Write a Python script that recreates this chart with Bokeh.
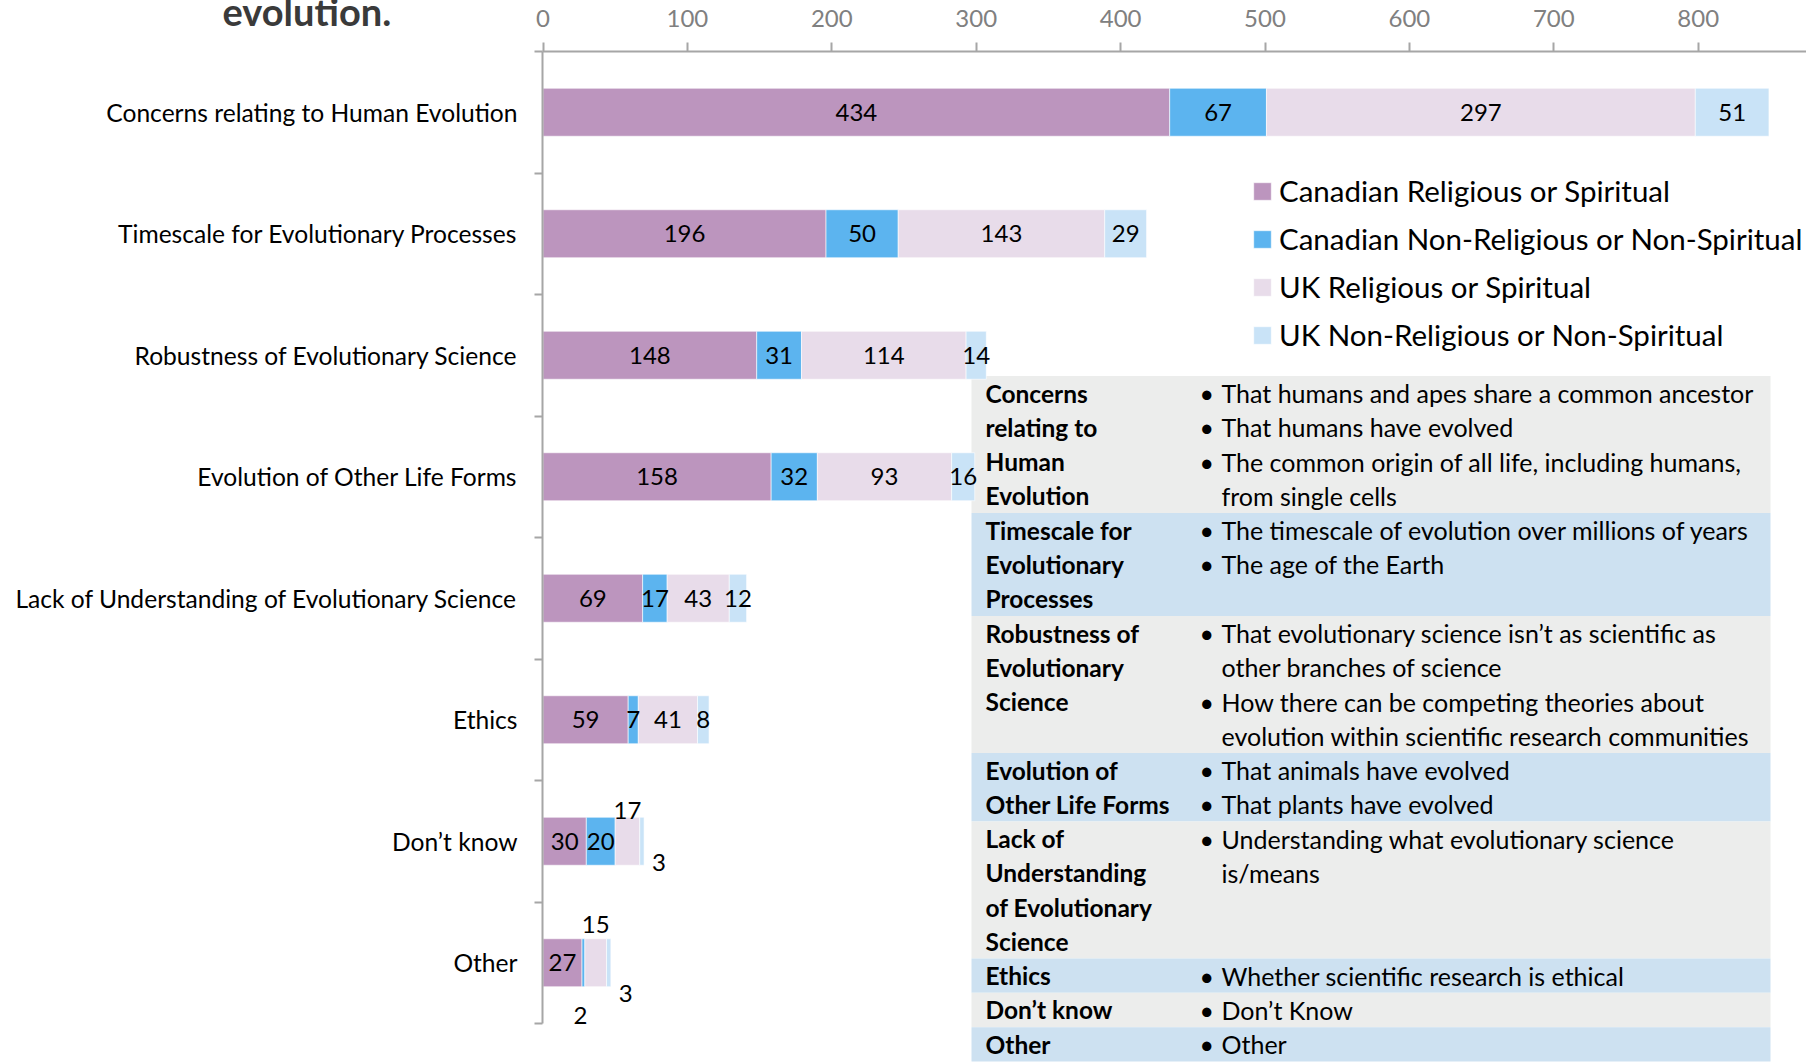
import numpy as np
from bokeh.plotting import figure
from bokeh.models import (Range1d, FixedTicker, ColumnDataSource, Legend,
                          LegendItem)
from bokeh.embed import file_html
from bokeh.resources import INLINE
from bokeh.core.properties import value

# ---------------- data ----------------
categories = [
    "Concerns relating to Human Evolution",
    "Timescale for Evolutionary Processes",
    "Robustness of Evolutionary Science",
    "Evolution of Other Life Forms",
    "Lack of Understanding of Evolutionary Science",
    "Ethics",
    "Don\u2019t know",
    "Other",
]
series_names = [
    "Canadian Religious or Spiritual",
    "Canadian Non-Religious or Non-Spiritual",
    "UK Religious or Spiritual",
    "UK Non-Religious or Non-Spiritual",
]
canadian_religious = [434, 196, 148, 158, 69, 59, 30, 27]
canadian_nonreligious = [67, 50, 31, 32, 17, 7, 20, 2]
uk_religious = [297, 143, 114, 93, 43, 41, 17, 15]
uk_nonreligious = [51, 29, 14, 16, 12, 8, 3, 3]
x_ticks = [0, 100, 200, 300, 400, 500, 600, 700, 800]
title_text = "evolution."

table_headings = [
    ["Concerns", "relating to", "Human", "Evolution"],
    ["Timescale for", "Evolutionary", "Processes"],
    ["Robustness of", "Evolutionary", "Science"],
    ["Evolution of", "Other Life Forms"],
    ["Lack of", "Understanding", "of Evolutionary", "Science"],
    ["Ethics"],
    ["Don\u2019t know"],
    ["Other"],
]
# (text, starts_with_bullet)
table_items = [
    [("That humans and apes share a common ancestor", True),
     ("That humans have evolved", True),
     ("The common origin of all life, including humans,", True),
     ("from single cells", False)],
    [("The timescale of evolution over millions of years", True),
     ("The age of the Earth", True)],
    [("That evolutionary science isn\u2019t as scientific as", True),
     ("other branches of science", False),
     ("How there can be competing theories about", True),
     ("evolution within scientific research communities", False)],
    [("That animals have evolved", True),
     ("That plants have evolved", True)],
    [("Understanding what evolutionary science", True),
     ("is/means", False)],
    [("Whether scientific research is ethical", True)],
    [("Don\u2019t Know", True)],
    [("Other", True)],
]
table_row_lines = [4, 3, 4, 2, 4, 1, 1, 1]

# ---------------- styles ----------------
colors = ["#bc95be", "#5cb4ef", "#e8dcea", "#c9e3f7"]
FONT = "Lato"
AXIS_GREY = "#a6a6a6"

# label offsets (screen px) for crowded labels: (row, series) -> (dx, dy)
label_offsets = {(6, 2): (0, -31), (6, 3): (17, 21),
                 (7, 1): (-3, 53), (7, 2): (0, -38), (7, 3): (17, 31)}

# ---------------- geometry (page px; the page has no margin) ----------------
W, H = 1806, 1062
FRAME_LEFT = 542
FRAME_TOP = 51
X_PER_UNIT = (1697.7 - 542.5) / 800.0
ROW_PX = (1023 - FRAME_TOP) / 8.0
x_min = (FRAME_LEFT - 542.5) / X_PER_UNIT
x_max = x_min + (W - FRAME_LEFT) / X_PER_UNIT
y_bottom = -0.5 + (H - FRAME_TOP) / ROW_PX

p = figure(width=W, height=H, output_backend="svg", toolbar_location=None,
           x_axis_location="above", title=title_text,
           x_range=Range1d(x_min, x_max), y_range=Range1d(y_bottom, -0.5))
p.extra_x_ranges = {"px": Range1d(FRAME_LEFT, W)}
p.extra_y_ranges = {"px": Range1d(H, FRAME_TOP)}
p.min_border_left = FRAME_LEFT
p.min_border_top = FRAME_TOP
p.min_border_right = 0
p.min_border_bottom = 0
p.outline_line_color = None
p.grid.visible = False
p.background_fill_color = "white"
p.border_fill_color = "white"

# title fragment: cut at the top like the reference, sharing the band of the tick labels
p.title.align = "left"
p.title.offset = 222 - FRAME_LEFT
p.title.standoff = -54
p.title.vertical_align = "bottom"
p.title.text_font = FONT
p.title.text_font_style = "bold"
p.title.text_font_size = "38px"
p.title.text_color = "#3a3a3a"

# ---------------- table panel (behind) ----------------
LINE_H = 34.27
TABLE_TOP = 375.5
TABLE_L, TABLE_R = 971, 1770
row_tops, row_bottoms, row_cols = [], [], []
head_x, head_y, head_t = [], [], []
bul_x, bul_y = [], []
item_x, item_y, item_t = [], [], []
cur = TABLE_TOP
for r, n in enumerate(table_row_lines):
    row_tops.append(cur)
    row_bottoms.append(cur + n * LINE_H)
    row_cols.append("#ecedec" if r % 2 == 0 else "#cde1f1")
    for k, t in enumerate(table_headings[r]):
        head_x.append(985); head_y.append(cur + (k + 0.5) * LINE_H); head_t.append(t)
    for k, (t, b) in enumerate(table_items[r]):
        yy = cur + (k + 0.5) * LINE_H
        if b:
            bul_x.append(1199); bul_y.append(yy)
        item_x.append(1221); item_y.append(yy); item_t.append(t)
    cur += n * LINE_H

p.quad(left=TABLE_L, right=TABLE_R, top=row_tops, bottom=row_bottoms,
       fill_color=row_cols, line_color=None,
       x_range_name="px", y_range_name="px")

# ---------------- bars ----------------
series = [canadian_religious, canadian_nonreligious, uk_religious, uk_nonreligious]
ypos = np.arange(len(categories))
cum = np.zeros(len(categories))
renderers = []
lab_x, lab_y, lab_t, lab_dx, lab_dy = [], [], [], [], []
for s, vals in enumerate(series):
    vals = np.array(vals, dtype=float)
    left = cum.copy()
    right = cum + vals
    src = ColumnDataSource(dict(y=ypos, left=left, right=right))
    r = p.hbar(y="y", left="left", right="right", height=0.395, source=src,
               fill_color=colors[s], line_color="white", line_width=0.6)
    renderers.append(r)
    for i, v in enumerate(vals):
        dx, dy = label_offsets.get((i, s), (0, 0))
        lab_x.append((left[i] + right[i]) / 2.0)
        lab_y.append(ypos[i])
        lab_t.append(str(int(v)))
        lab_dx.append(dx); lab_dy.append(dy)
    cum = right

lsrc = ColumnDataSource(dict(x=lab_x, y=lab_y, t=lab_t, dx=lab_dx, dy=lab_dy))
p.text(x="x", y="y", text="t", x_offset="dx", y_offset="dy", source=lsrc,
       text_align="center", text_baseline="middle", text_color="black",
       text_font=value(FONT), text_font_size="24px")

# ---------------- table text ----------------
p.text(x=head_x, y=head_y, text=head_t, x_range_name="px", y_range_name="px",
       text_align="left", text_baseline="middle", text_color="black",
       text_font=value(FONT), text_font_style="bold", text_font_size="24.5px")
p.text(x=bul_x, y=bul_y, text=["\u2022"] * len(bul_x), x_range_name="px", y_range_name="px",
       text_align="left", text_baseline="middle", text_color="black",
       text_font=value(FONT), text_font_size="25px")
p.text(x=item_x, y=item_y, text=item_t, x_range_name="px", y_range_name="px",
       text_align="left", text_baseline="middle", text_color="black",
       text_font=value(FONT), text_font_size="25px")

# ---------------- axes ----------------
xa = p.xaxis[0]
xa.ticker = FixedTicker(ticks=x_ticks)
xa.axis_line_color = AXIS_GREY
xa.axis_line_width = 2
xa.major_tick_line_color = AXIS_GREY
xa.major_tick_line_width = 2
xa.major_tick_out = 9
xa.major_tick_in = 0
xa.minor_tick_out = 0
xa.minor_tick_in = 0
xa.major_label_standoff = 16
xa.major_label_text_font = FONT
xa.major_label_text_font_size = "24px"
xa.major_label_text_color = "#808080"

ya = p.yaxis[0]
ya.ticker = FixedTicker(ticks=list(range(len(categories))),
                        minor_ticks=[i - 0.5 for i in range(len(categories) + 1)])
ya.major_label_overrides = {i: c for i, c in enumerate(categories)}
ya.bounds = (-0.5, len(categories) - 0.5)
ya.axis_line_color = AXIS_GREY
ya.axis_line_width = 2
ya.major_tick_out = 0
ya.major_tick_in = 0
ya.minor_tick_line_color = AXIS_GREY
ya.minor_tick_line_width = 2
ya.minor_tick_out = 8
ya.minor_tick_in = 0
ya.major_label_standoff = 17
ya.major_label_text_font = FONT
ya.major_label_text_font_size = "24.6px"
ya.major_label_text_color = "black"

# ---------------- legend ----------------
legend = Legend(items=[LegendItem(label=n, renderers=[r]) for n, r in zip(series_names, renderers)],
                location=(709, 710), orientation="vertical",
                label_text_font=FONT, label_text_font_size="29.5px",
                label_text_color="black",
                glyph_height=22, glyph_width=22, label_standoff=6,
                spacing=13, padding=0, margin=0,
                border_line_alpha=0, background_fill_alpha=0)
p.add_layout(legend)

open("out.html", "w").write(file_html(p, INLINE))
